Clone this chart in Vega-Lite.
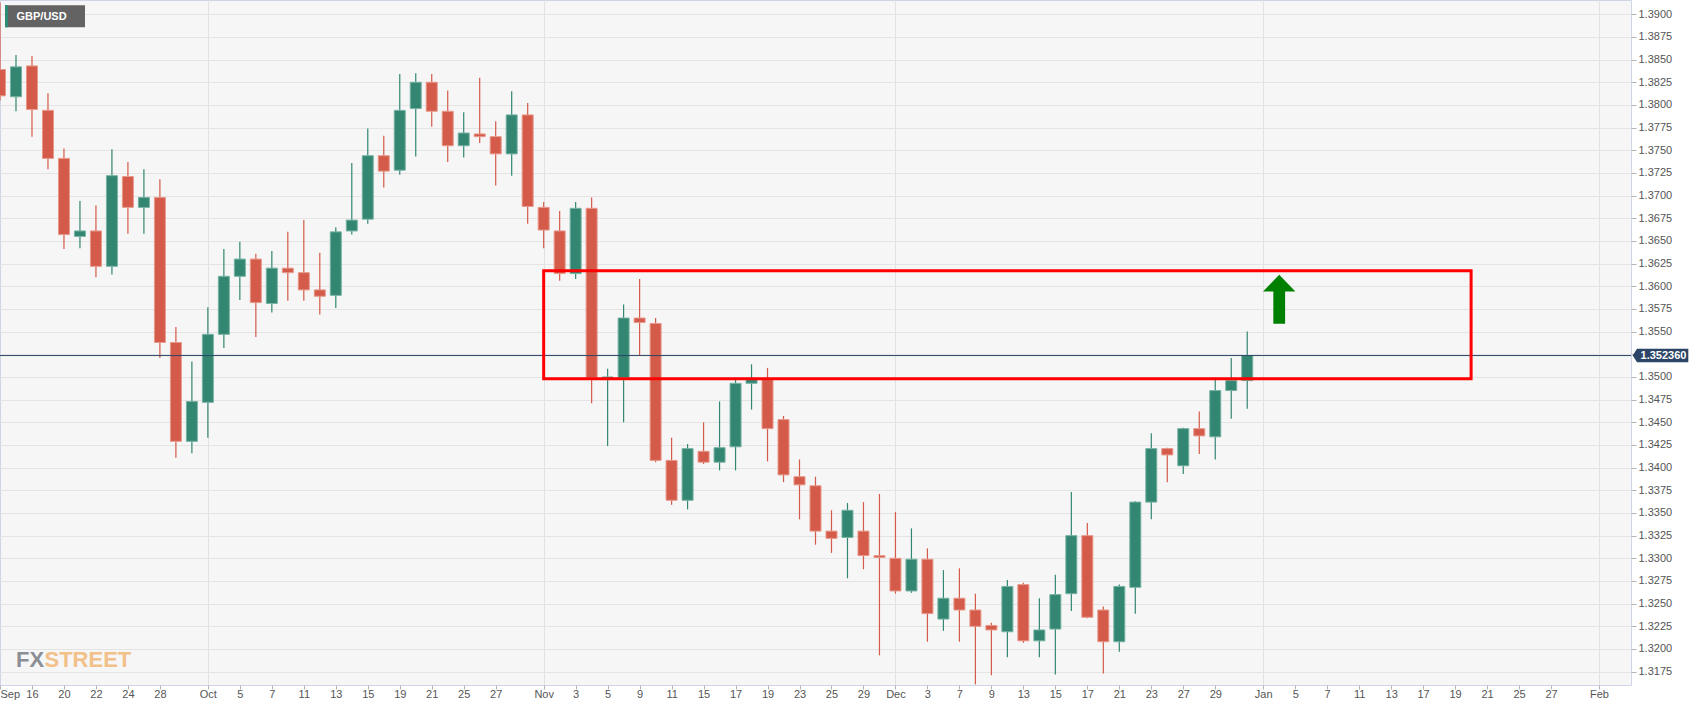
{
  "$schema": "https://vega.github.io/schema/vega-lite/v6.json",
  "width": 1631,
  "height": 685,
  "autosize": {"type": "none"},
  "padding": {"left": 0, "top": 0, "right": 76, "bottom": 27},
  "background": "#ffffff",
  "config": {
    "view": {"fill": "#f6f6f6", "stroke": "#cfd5e7", "strokeWidth": 1},
    "font": "Liberation Sans, Arial, sans-serif"
  },
  "datasets": {
    "ohlc": [
      {"date": "2021-09-14", "open": 1.3839, "high": 1.3913, "low": 1.3805, "close": 1.3810},
      {"date": "2021-09-15", "open": 1.3809, "high": 1.3855, "low": 1.3793, "close": 1.3842},
      {"date": "2021-09-16", "open": 1.3843, "high": 1.3854, "low": 1.3765, "close": 1.3795},
      {"date": "2021-09-17", "open": 1.3794, "high": 1.3813, "low": 1.3729, "close": 1.3741},
      {"date": "2021-09-20", "open": 1.3741, "high": 1.3752, "low": 1.3641, "close": 1.3657},
      {"date": "2021-09-21", "open": 1.3655, "high": 1.3694, "low": 1.3642, "close": 1.3661},
      {"date": "2021-09-22", "open": 1.3661, "high": 1.3689, "low": 1.3610, "close": 1.3622},
      {"date": "2021-09-23", "open": 1.3622, "high": 1.3751, "low": 1.3613, "close": 1.3722},
      {"date": "2021-09-24", "open": 1.3721, "high": 1.3737, "low": 1.3658, "close": 1.3687},
      {"date": "2021-09-27", "open": 1.3687, "high": 1.3729, "low": 1.3658, "close": 1.3698},
      {"date": "2021-09-28", "open": 1.3698, "high": 1.3718, "low": 1.3521, "close": 1.3538},
      {"date": "2021-09-29", "open": 1.3538, "high": 1.3555, "low": 1.3411, "close": 1.3429},
      {"date": "2021-09-30", "open": 1.3429, "high": 1.3517, "low": 1.3416, "close": 1.3473},
      {"date": "2021-10-01", "open": 1.3472, "high": 1.3577, "low": 1.3433, "close": 1.3547},
      {"date": "2021-10-04", "open": 1.3547, "high": 1.3641, "low": 1.3532, "close": 1.3611},
      {"date": "2021-10-05", "open": 1.3611, "high": 1.3649, "low": 1.3585, "close": 1.3630},
      {"date": "2021-10-06", "open": 1.3630, "high": 1.3636, "low": 1.3544, "close": 1.3582},
      {"date": "2021-10-07", "open": 1.3581, "high": 1.3639, "low": 1.3571, "close": 1.3620},
      {"date": "2021-10-08", "open": 1.3620, "high": 1.3660, "low": 1.3584, "close": 1.3615},
      {"date": "2021-10-11", "open": 1.3615, "high": 1.3673, "low": 1.3584, "close": 1.3596},
      {"date": "2021-10-12", "open": 1.3596, "high": 1.3637, "low": 1.3569, "close": 1.3589},
      {"date": "2021-10-13", "open": 1.3590, "high": 1.3665, "low": 1.3576, "close": 1.3660},
      {"date": "2021-10-14", "open": 1.3661, "high": 1.3736, "low": 1.3657, "close": 1.3673},
      {"date": "2021-10-15", "open": 1.3674, "high": 1.3774, "low": 1.3669, "close": 1.3744},
      {"date": "2021-10-18", "open": 1.3744, "high": 1.3766, "low": 1.3709, "close": 1.3727},
      {"date": "2021-10-19", "open": 1.3728, "high": 1.3834, "low": 1.3723, "close": 1.3794},
      {"date": "2021-10-20", "open": 1.3796, "high": 1.3835, "low": 1.3743, "close": 1.3825},
      {"date": "2021-10-21", "open": 1.3825, "high": 1.3834, "low": 1.3776, "close": 1.3793},
      {"date": "2021-10-22", "open": 1.3793, "high": 1.3816, "low": 1.3737, "close": 1.3755},
      {"date": "2021-10-25", "open": 1.3755, "high": 1.3792, "low": 1.3742, "close": 1.3769},
      {"date": "2021-10-26", "open": 1.3768, "high": 1.3830, "low": 1.3758, "close": 1.3765},
      {"date": "2021-10-27", "open": 1.3765, "high": 1.3782, "low": 1.3711, "close": 1.3746},
      {"date": "2021-10-28", "open": 1.3746, "high": 1.3815, "low": 1.3722, "close": 1.3789},
      {"date": "2021-10-29", "open": 1.3789, "high": 1.3802, "low": 1.3669, "close": 1.3688},
      {"date": "2021-11-01", "open": 1.3687, "high": 1.3693, "low": 1.3642, "close": 1.3662},
      {"date": "2021-11-02", "open": 1.3661, "high": 1.3683, "low": 1.3606, "close": 1.3614},
      {"date": "2021-11-03", "open": 1.3614, "high": 1.3693, "low": 1.3608, "close": 1.3686},
      {"date": "2021-11-04", "open": 1.3686, "high": 1.3698, "low": 1.3471, "close": 1.3499},
      {"date": "2021-11-05", "open": 1.3498, "high": 1.3509, "low": 1.3424, "close": 1.3500},
      {"date": "2021-11-08", "open": 1.3499, "high": 1.3580, "low": 1.3450, "close": 1.3565},
      {"date": "2021-11-09", "open": 1.3565, "high": 1.3608, "low": 1.3524, "close": 1.3560},
      {"date": "2021-11-10", "open": 1.3559, "high": 1.3565, "low": 1.3406, "close": 1.3408},
      {"date": "2021-11-11", "open": 1.3408, "high": 1.3433, "low": 1.3359, "close": 1.3364},
      {"date": "2021-11-12", "open": 1.3364, "high": 1.3426, "low": 1.3354, "close": 1.3421},
      {"date": "2021-11-15", "open": 1.3418, "high": 1.3450, "low": 1.3404, "close": 1.3406},
      {"date": "2021-11-16", "open": 1.3406, "high": 1.3473, "low": 1.3397, "close": 1.3422},
      {"date": "2021-11-17", "open": 1.3423, "high": 1.3497, "low": 1.3397, "close": 1.3493},
      {"date": "2021-11-18", "open": 1.3493, "high": 1.3514, "low": 1.3464, "close": 1.3497},
      {"date": "2021-11-19", "open": 1.3497, "high": 1.3510, "low": 1.3407, "close": 1.3443},
      {"date": "2021-11-22", "open": 1.3453, "high": 1.3457, "low": 1.3384, "close": 1.3392},
      {"date": "2021-11-23", "open": 1.3390, "high": 1.3409, "low": 1.3343, "close": 1.3381},
      {"date": "2021-11-24", "open": 1.3380, "high": 1.3390, "low": 1.3315, "close": 1.3330},
      {"date": "2021-11-25", "open": 1.3330, "high": 1.3353, "low": 1.3306, "close": 1.3322},
      {"date": "2021-11-26", "open": 1.3323, "high": 1.3361, "low": 1.3278, "close": 1.3353},
      {"date": "2021-11-29", "open": 1.3330, "high": 1.3362, "low": 1.3288, "close": 1.3303},
      {"date": "2021-11-30", "open": 1.3303, "high": 1.3371, "low": 1.3193, "close": 1.3301},
      {"date": "2021-12-01", "open": 1.3300, "high": 1.3351, "low": 1.3261, "close": 1.3264},
      {"date": "2021-12-02", "open": 1.3264, "high": 1.3333, "low": 1.3262, "close": 1.3299},
      {"date": "2021-12-03", "open": 1.3299, "high": 1.3311, "low": 1.3208, "close": 1.3239},
      {"date": "2021-12-06", "open": 1.3233, "high": 1.3287, "low": 1.3220, "close": 1.3256},
      {"date": "2021-12-07", "open": 1.3256, "high": 1.3289, "low": 1.3208, "close": 1.3243},
      {"date": "2021-12-08", "open": 1.3243, "high": 1.3261, "low": 1.3161, "close": 1.3225},
      {"date": "2021-12-09", "open": 1.3226, "high": 1.3229, "low": 1.3171, "close": 1.3221},
      {"date": "2021-12-10", "open": 1.3219, "high": 1.3276, "low": 1.3191, "close": 1.3269},
      {"date": "2021-12-13", "open": 1.3271, "high": 1.3273, "low": 1.3207, "close": 1.3209},
      {"date": "2021-12-14", "open": 1.3209, "high": 1.3256, "low": 1.3191, "close": 1.3221},
      {"date": "2021-12-15", "open": 1.3222, "high": 1.3282, "low": 1.3172, "close": 1.3260},
      {"date": "2021-12-16", "open": 1.3261, "high": 1.3373, "low": 1.3242, "close": 1.3325},
      {"date": "2021-12-17", "open": 1.3325, "high": 1.3339, "low": 1.3234, "close": 1.3235},
      {"date": "2021-12-20", "open": 1.3243, "high": 1.3247, "low": 1.3173, "close": 1.3208},
      {"date": "2021-12-21", "open": 1.3208, "high": 1.3271, "low": 1.3197, "close": 1.3269},
      {"date": "2021-12-22", "open": 1.3268, "high": 1.3363, "low": 1.3239, "close": 1.3362},
      {"date": "2021-12-23", "open": 1.3362, "high": 1.3438, "low": 1.3343, "close": 1.3421},
      {"date": "2021-12-24", "open": 1.3421, "high": 1.3422, "low": 1.3384, "close": 1.3414},
      {"date": "2021-12-27", "open": 1.3402, "high": 1.3444, "low": 1.3393, "close": 1.3443},
      {"date": "2021-12-28", "open": 1.3443, "high": 1.3462, "low": 1.3415, "close": 1.3435},
      {"date": "2021-12-29", "open": 1.3434, "high": 1.3499, "low": 1.3409, "close": 1.3485},
      {"date": "2021-12-30", "open": 1.3485, "high": 1.3521, "low": 1.3454, "close": 1.3496},
      {"date": "2021-12-31", "open": 1.3496, "high": 1.3550, "low": 1.3465, "close": 1.35236}
    ]
  },
  "layer": [
    {
      "data": {"values": [{}]},
      "mark": {"type": "text", "text": "FX", "align": "left", "baseline": "alphabetic", "fontSize": 22, "fontWeight": "bold", "color": "#8b8e95"},
      "encoding": {
        "x": {"datum": "2021-09-15", "type": "ordinal"},
        "y": {"datum": 1.3180, "type": "quantitative"}
      }
    },
    {
      "data": {"values": [{}]},
      "mark": {"type": "text", "text": "STREET", "align": "left", "baseline": "alphabetic", "dx": 28.5, "fontSize": 22, "fontWeight": "bold", "color": "#f2c189"},
      "encoding": {
        "x": {"datum": "2021-09-15", "type": "ordinal"},
        "y": {"datum": 1.3180, "type": "quantitative"}
      }
    },
    {
      "data": {"name": "ohlc"},
      "mark": {"type": "rule", "clip": true, "strokeWidth": 1.2},
      "encoding": {
        "x": {
          "field": "date",
          "type": "ordinal",
          "title": null,
          "scale": {
            "type": "point",
            "padding": 0,
            "domain": ["2021-09-14","2021-09-15","2021-09-16","2021-09-17","2021-09-20","2021-09-21","2021-09-22","2021-09-23","2021-09-24","2021-09-27","2021-09-28","2021-09-29","2021-09-30",
              "2021-10-01","2021-10-04","2021-10-05","2021-10-06","2021-10-07","2021-10-08","2021-10-11","2021-10-12","2021-10-13","2021-10-14","2021-10-15","2021-10-18","2021-10-19","2021-10-20","2021-10-21","2021-10-22","2021-10-25","2021-10-26","2021-10-27","2021-10-28","2021-10-29",
              "2021-11-01","2021-11-02","2021-11-03","2021-11-04","2021-11-05","2021-11-08","2021-11-09","2021-11-10","2021-11-11","2021-11-12","2021-11-15","2021-11-16","2021-11-17","2021-11-18","2021-11-19","2021-11-22","2021-11-23","2021-11-24","2021-11-25","2021-11-26","2021-11-29","2021-11-30",
              "2021-12-01","2021-12-02","2021-12-03","2021-12-06","2021-12-07","2021-12-08","2021-12-09","2021-12-10","2021-12-13","2021-12-14","2021-12-15","2021-12-16","2021-12-17","2021-12-20","2021-12-21","2021-12-22","2021-12-23","2021-12-24","2021-12-27","2021-12-28","2021-12-29","2021-12-30","2021-12-31",
              "2022-01-03","2022-01-04","2022-01-05","2022-01-06","2022-01-07","2022-01-10","2022-01-11","2022-01-12","2022-01-13","2022-01-14","2022-01-17","2022-01-18","2022-01-19","2022-01-20","2022-01-21","2022-01-24","2022-01-25","2022-01-26","2022-01-27","2022-01-28","2022-01-31",
              "2022-02-01","2022-02-02","2022-02-03"]
          },
          "axis": {
            "title": null,
            "values": ["2021-09-14","2021-09-16","2021-09-20","2021-09-22","2021-09-24","2021-09-28","2021-10-01","2021-10-05","2021-10-07","2021-10-11","2021-10-13","2021-10-15","2021-10-19","2021-10-21","2021-10-25","2021-10-27","2021-11-01","2021-11-03","2021-11-05","2021-11-09","2021-11-11","2021-11-15","2021-11-17","2021-11-19","2021-11-23","2021-11-25","2021-11-29","2021-12-01","2021-12-03","2021-12-07","2021-12-09","2021-12-13","2021-12-15","2021-12-17","2021-12-21","2021-12-23","2021-12-27","2021-12-29","2022-01-03","2022-01-05","2022-01-07","2022-01-11","2022-01-13","2022-01-17","2022-01-19","2022-01-21","2022-01-25","2022-01-27","2022-02-01"],
            "labelExpr": "datum.value == '2021-09-14' ? 'Sep' : datum.value == '2021-10-01' ? 'Oct' : datum.value == '2021-11-01' ? 'Nov' : datum.value == '2021-12-01' ? 'Dec' : datum.value == '2022-01-03' ? 'Jan' : datum.value == '2022-02-01' ? 'Feb' : '' + toNumber(slice(datum.value, 8, 10))",
            "labelAlign": {"condition": {"test": "datum.value == '2021-09-14'", "value": "left"}, "value": "center"},
            "labelOverlap": false,
            "labelAngle": 0,
            "labelFontSize": 11,
            "labelColor": "#555555",
            "labelPadding": 5,
            "tickSize": 4,
            "tickColor": "#b5b5b5",
            "domain": false,
            "grid": true,
            "gridColor": {"condition": {"test": "indexof(['2021-10-01','2021-11-01','2021-12-01','2022-01-03','2022-02-01'], datum.value) >= 0", "value": "#e2e2e2"}, "value": "transparent"}
          }
        },
        "y": {
          "field": "low",
          "type": "quantitative",
          "title": null,
          "scale": {"domain": [1.31603, 1.39157], "nice": false, "zero": false},
          "axis": {
            "title": null,
            "orient": "right",
            "tickCount": 60,
            "values": [1.3175, 1.32, 1.3225, 1.325, 1.3275, 1.33, 1.3325, 1.335, 1.3375, 1.34, 1.3425, 1.345, 1.3475, 1.35, 1.3525, 1.355, 1.3575, 1.36, 1.3625, 1.365, 1.3675, 1.37, 1.3725, 1.375, 1.3775, 1.38, 1.3825, 1.385, 1.3875, 1.39],
            "labelExpr": "datum.value == 1.3525 ? '' : format(datum.value, '.4f')",
            "labelOverlap": false,
            "labelFontSize": 11,
            "labelColor": "#555555",
            "labelPadding": 2,
            "tickSize": 5,
            "tickColor": "#b5b5b5",
            "domain": false,
            "grid": true,
            "gridColor": "#e4e4e4"
          }
        },
        "y2": {"field": "high"},
        "color": {"condition": {"test": "datum.close >= datum.open", "value": "#328672"}, "value": "#d45a49"}
      }
    },
    {
      "data": {"name": "ohlc"},
      "mark": {"type": "bar", "clip": true, "width": 11, "strokeWidth": 1},
      "encoding": {
        "x": {"field": "date", "type": "ordinal", "title": null},
        "y": {"field": "open", "type": "quantitative", "title": null},
        "y2": {"field": "close"},
        "color": {"condition": {"test": "datum.close >= datum.open", "value": "#328672"}, "value": "#d45a49"},
        "stroke": {"condition": {"test": "datum.close >= datum.open", "value": "#79b3a3"}, "value": "#e8998c"}
      }
    },
    {
      "data": {"values": [{}]},
      "mark": {"type": "rule", "color": "#2d4668", "strokeWidth": 1},
      "encoding": {
        "y": {"datum": 1.35236, "type": "quantitative"}
      }
    },
    {
      "data": {"values": [{}]},
      "mark": {"type": "rect", "fill": "transparent", "stroke": "#ff0000", "strokeWidth": 3},
      "encoding": {
        "x": {"datum": "2021-11-01", "type": "ordinal"},
        "x2": {"datum": "2022-01-20"},
        "y": {"datum": 1.3617, "type": "quantitative"},
        "y2": {"datum": 1.3498}
      }
    },
    {
      "data": {"values": [{}]},
      "mark": {"type": "point", "shape": "M0,-1L0.66,-0.32L0.24,-0.32L0.24,1L-0.24,1L-0.24,-0.32L-0.66,-0.32Z", "size": 2401, "filled": true, "fill": "#008000", "opacity": 1, "strokeWidth": 0},
      "encoding": {
        "x": {"datum": "2022-01-04", "type": "ordinal"},
        "y": {"datum": 1.35856, "type": "quantitative"}
      }
    },
    {
      "data": {"values": [{}]},
      "mark": {"type": "point", "shape": "M0.17,0L0.6,-0.67L5.73,-0.67L5.73,0.67L0.6,0.67Z", "size": 400, "filled": true, "fill": "#2d4668", "opacity": 1, "strokeWidth": 0},
      "encoding": {
        "x": {"datum": "2022-02-03", "type": "ordinal"},
        "y": {"datum": 1.35236, "type": "quantitative"}
      }
    },
    {
      "data": {"values": [{}]},
      "mark": {"type": "text", "text": "1.352360", "align": "center", "baseline": "middle", "dx": 32.5, "dy": 0.5, "fontSize": 11, "fontWeight": "bold", "color": "#ffffff"},
      "encoding": {
        "x": {"datum": "2022-02-03", "type": "ordinal"},
        "y": {"datum": 1.35236, "type": "quantitative"}
      }
    },
    {
      "data": {"values": [{}]},
      "mark": {"type": "rect", "color": "#636363", "xOffset": 5, "x2Offset": 85, "yOffset": -9, "y2Offset": 13},
      "encoding": {
        "x": {"datum": "2021-09-14", "type": "ordinal"},
        "x2": {"datum": "2021-09-14"},
        "y": {"datum": 1.39, "type": "quantitative"},
        "y2": {"datum": 1.39}
      }
    },
    {
      "data": {"values": [{}]},
      "mark": {"type": "rect", "color": "#2f8a73", "xOffset": 5, "x2Offset": 8, "yOffset": -9, "y2Offset": 13},
      "encoding": {
        "x": {"datum": "2021-09-14", "type": "ordinal"},
        "x2": {"datum": "2021-09-14"},
        "y": {"datum": 1.39, "type": "quantitative"},
        "y2": {"datum": 1.39}
      }
    },
    {
      "data": {"values": [{}]},
      "mark": {"type": "text", "text": "GBP/USD", "align": "left", "baseline": "middle", "dx": 16.5, "dy": 2.5, "fontSize": 11, "fontWeight": "bold", "color": "#ffffff"},
      "encoding": {
        "x": {"datum": "2021-09-14", "type": "ordinal"},
        "y": {"datum": 1.39, "type": "quantitative"}
      }
    }
  ]
}
